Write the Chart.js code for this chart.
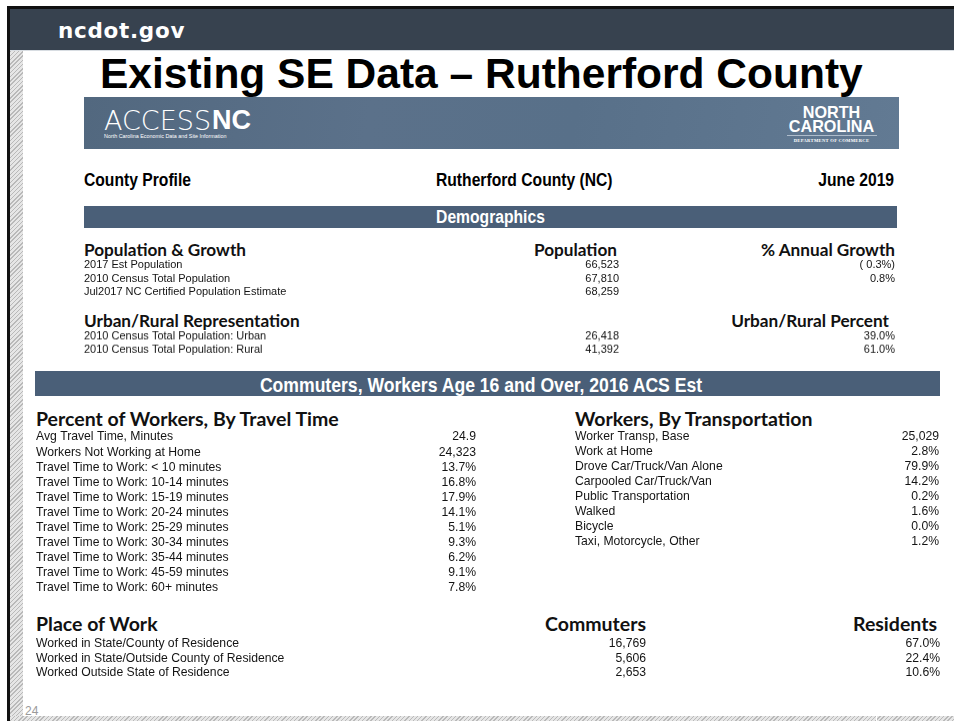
<!DOCTYPE html>
<html>
<head>
<meta charset="utf-8">
<title>Existing SE Data – Rutherford County</title>
<script src="https://cdn.jsdelivr.net/npm/chart.js@4.4.0/dist/chart.umd.min.js"></script>
<style>
body{margin:0;background:#fff;}
#slide{position:relative;width:954px;height:721px;overflow:hidden;background:#fff;font-family:"Liberation Sans",Arial,sans-serif;}
.t{position:absolute;white-space:nowrap;line-height:1;}
.box{position:absolute;}
.hd{font-family:Lato,sans-serif;font-weight:700;font-size:17.2px;color:#111;}
.hd2{font-size:19.5px;}
.nar{font-family:"Liberation Sans",Arial,sans-serif;font-weight:700;transform:scaleX(0.87);transform-origin:left center;}
.hatch{position:absolute;background:repeating-linear-gradient(135deg,#b9b9b9 0 1px,#e6e6e6 1px 3px);}
</style>
</head>
<body>
<div id="slide">
  <!-- frame -->
  <div class="box" style="left:7px;top:6px;width:947px;height:3px;background:#111;"></div>
  <div class="box" style="left:7px;top:6px;width:3px;height:715px;background:#111;"></div>
  <div class="box" style="left:10px;top:9px;width:944px;height:41px;background:#37424f;"></div>
  <div class="box" style="left:10px;top:50px;width:944px;height:1px;background:#d8dde2;"></div>
  <div class="hatch" style="left:10px;top:51px;width:13px;height:670px;"></div>
  <div class="hatch" style="left:10px;top:716px;width:944px;height:5px;"></div>
  <div class="box" style="left:876px;top:716px;width:1px;height:5px;background:#fff;"></div>
  <div class="t" style="left:58px;top:19.5px;font-family:'DejaVu Sans',sans-serif;font-weight:700;font-size:21.5px;color:#fff;letter-spacing:0.7px;">ncdot.gov</div>
  <div class="t" style="left:25px;top:705px;font-size:12px;color:#9a9a9a;">24</div>

  <!-- title -->
  <div class="t" style="left:100px;top:53px;font-weight:700;font-size:42.5px;color:#000;">Existing SE Data – Rutherford County</div>

  <!-- banner -->
  <div class="box" style="left:84px;top:97px;width:815px;height:52px;background:linear-gradient(100deg,#52687f 0%,#5b718a 35%,#587089 60%,#627a93 100%);"></div>
  <div class="t" style="left:104px;top:107.2px;font-family:'DejaVu Sans',sans-serif;font-weight:200;font-size:27px;color:#fff;">ACCESS</div>
  <div class="t" style="left:212px;top:107.2px;font-weight:700;font-size:27px;color:#fff;">NC</div>
  <div class="t" style="left:104px;top:134px;font-size:5.4px;color:#fff;">North Carolina Economic Data and Site Information</div>
  <div class="t" style="left:781px;top:105px;width:101px;text-align:center;font-weight:700;font-size:16.2px;color:#fff;line-height:14px;">NORTH<br>CAROLINA</div>
  <div class="box" style="left:787px;top:135px;width:90px;height:1px;background:#aebccb;"></div>
  <div class="t" style="left:781px;top:138.5px;width:101px;text-align:center;font-family:'Liberation Serif',serif;font-weight:700;font-size:4.6px;color:#fff;letter-spacing:0.3px;">DEPARTMENT OF COMMERCE</div>

  <!-- profile header -->
  <div class="t nar" style="left:84px;top:171px;font-size:18px;color:#000;">County Profile</div>
  <div class="t nar" style="left:436px;top:171px;font-size:18px;color:#000;">Rutherford County (NC)</div>
  <div class="t nar" style="right:60px;top:171px;font-size:18px;color:#000;transform-origin:right center;">June 2019</div>

  <div class="box" style="left:84px;top:206px;width:813px;height:22px;background:#4a5f78;"></div>
  <div class="t nar" style="left:84px;top:208px;width:813px;text-align:center;font-size:18px;color:#fff;transform-origin:center center;">Demographics</div>

  <div class="t hd" style="left:84px;top:240.5px;">Population &amp; Growth</div>
  <div class="t hd" style="right:337px;top:240.5px;">Population</div>
  <div class="t hd" style="right:59px;top:240.5px;">% Annual Growth</div>
  <div class="box" style="left:84px;top:257.6px;width:813px;height:40px;"><canvas id="popChart"></canvas></div>

  <div class="t hd" style="left:84px;top:312.3px;">Urban/Rural Representation</div>
  <div class="t hd" style="right:65px;top:312.3px;">Urban/Rural Percent</div>
  <div class="box" style="left:84px;top:329px;width:813px;height:26.6px;"><canvas id="urbanChart"></canvas></div>

  <div class="box" style="left:35px;top:371px;width:905px;height:25px;background:#4a5f78;"></div>
  <div class="t nar" style="left:0px;top:374.7px;width:962px;text-align:center;font-size:20.5px;color:#fff;transform:scaleX(0.858);transform-origin:center center;">Commuters, Workers Age 16 and Over, 2016 ACS Est</div>

  <div class="t hd hd2" style="left:36px;top:408.7px;">Percent of Workers, By Travel Time</div>
  <div class="box" style="left:36px;top:428.5px;width:441px;height:166px;"><canvas id="travelChart"></canvas></div>

  <div class="t hd hd2" style="left:575px;top:408.7px;">Workers, By Transportation</div>
  <div class="box" style="left:575px;top:428.5px;width:365px;height:120px;"><canvas id="transpChart"></canvas></div>

  <div class="t hd hd2" style="left:36px;top:614.4px;">Place of Work</div>
  <div class="t hd hd2" style="right:308px;top:614.4px;">Commuters</div>
  <div class="t hd hd2" style="right:17px;top:614.4px;">Residents</div>
  <div class="box" style="left:36px;top:635.5px;width:905px;height:43.5px;"><canvas id="placeChart"></canvas></div>
</div>

<script>
// ******** Data ********
const popLabels = ['2017 Est Population', '2010 Census Total Population', 'Jul2017 NC Certified Population Estimate'];
const popValues = [66523, 67810, 68259];
const popGrowth = [-0.3, 0.8, null];

const urbanLabels = ['2010 Census Total Population: Urban', '2010 Census Total Population: Rural'];
const urbanValues = [26418, 41392];
const urbanPercent = [39.0, 61.0];

const travelLabels = [
  'Avg Travel Time, Minutes',
  'Workers Not Working at Home',
  'Travel Time to Work: < 10 minutes',
  'Travel Time to Work: 10-14 minutes',
  'Travel Time to Work: 15-19 minutes',
  'Travel Time to Work: 20-24 minutes',
  'Travel Time to Work: 25-29 minutes',
  'Travel Time to Work: 30-34 minutes',
  'Travel Time to Work: 35-44 minutes',
  'Travel Time to Work: 45-59 minutes',
  'Travel Time to Work: 60+ minutes'
];
const travelValues = [24.9, 24323, 13.7, 16.8, 17.9, 14.1, 5.1, 9.3, 6.2, 9.1, 7.8];
const travelUnits = ['dec', 'count', 'pct', 'pct', 'pct', 'pct', 'pct', 'pct', 'pct', 'pct', 'pct'];

const transpLabels = [
  'Worker Transp, Base',
  'Work at Home',
  'Drove Car/Truck/Van Alone',
  'Carpooled Car/Truck/Van',
  'Public Transportation',
  'Walked',
  'Bicycle',
  'Taxi, Motorcycle, Other'
];
const transpValues = [25029, 2.8, 79.9, 14.2, 0.2, 1.6, 0.0, 1.2];
const transpUnits = ['count', 'pct', 'pct', 'pct', 'pct', 'pct', 'pct', 'pct'];

const placeLabels = ['Worked in State/County of Residence', 'Worked in State/Outside County of Residence', 'Worked Outside State of Residence'];
const placeCommuters = [16769, 5606, 2653];
const placeResidents = [67.0, 22.4, 10.6];

// ******** Formatting ********
function fmt(v, unit) {
  if (unit === 'count') return v.toLocaleString('en-US');
  if (unit === 'dec') return v.toFixed(1);
  if (v < 0) return '( ' + Math.abs(v).toFixed(1) + '%)';
  return v.toFixed(1) + '%';
}

// draws row labels + value columns at the category scale's row positions
const tableText = {
  id: 'tableText',
  afterDatasetsDraw(chart, args, opts) {
    const ctx = chart.ctx;
    const yScale = chart.scales.y;
    ctx.save();
    ctx.font = opts.font;
    ctx.fillStyle = opts.color;
    ctx.textBaseline = 'middle';
    chart.data.labels.forEach((label, i) => {
      const py = yScale.getPixelForValue(i) + opts.shift;
      ctx.textAlign = 'left';
      ctx.fillText(label, chart.chartArea.left, py);
      ctx.textAlign = 'right';
      chart.data.datasets.forEach((ds, j) => {
        const v = ds.data[i];
        if (v === null || v === undefined) return;
        ctx.fillText(fmt(v, ds.units[i]), chart.chartArea.left + opts.columns[j], py);
      });
    });
    ctx.restore();
  }
};

function makeTable(id, labels, series, columns, font) {
  return new Chart(document.getElementById(id), {
    type: 'bar',
    data: {
      labels: labels,
      datasets: series.map(s => ({
        data: s.data,
        units: s.units,
        backgroundColor: 'rgba(0,0,0,0)',
        borderWidth: 0
      }))
    },
    options: {
      indexAxis: 'y',
      responsive: true,
      maintainAspectRatio: false,
      animation: false,
      layout: { padding: 0 },
      scales: {
        x: { display: false },
        y: { display: false }
      },
      plugins: {
        legend: { display: false },
        tooltip: { enabled: false },
        tableText: { font: font, color: '#141414', columns: columns, shift: 0.5 }
      }
    },
    plugins: [tableText]
  });
}

const smallFont = '11px "Liberation Sans", Arial, sans-serif';
const rowFont = '12.2px "Liberation Sans", Arial, sans-serif';

makeTable('popChart', popLabels,
  [{ data: popValues, units: popValues.map(() => 'count') },
   { data: popGrowth, units: popGrowth.map(() => 'pct') }],
  [535, 811], smallFont);

makeTable('urbanChart', urbanLabels,
  [{ data: urbanValues, units: urbanValues.map(() => 'count') },
   { data: urbanPercent, units: urbanPercent.map(() => 'pct') }],
  [535, 811], smallFont);

makeTable('travelChart', travelLabels,
  [{ data: travelValues, units: travelUnits }],
  [440], rowFont);

makeTable('transpChart', transpLabels,
  [{ data: transpValues, units: transpUnits }],
  [364], rowFont);

makeTable('placeChart', placeLabels,
  [{ data: placeCommuters, units: placeCommuters.map(() => 'count') },
   { data: placeResidents, units: placeResidents.map(() => 'pct') }],
  [610, 904], rowFont);
</script>
</body>
</html>
